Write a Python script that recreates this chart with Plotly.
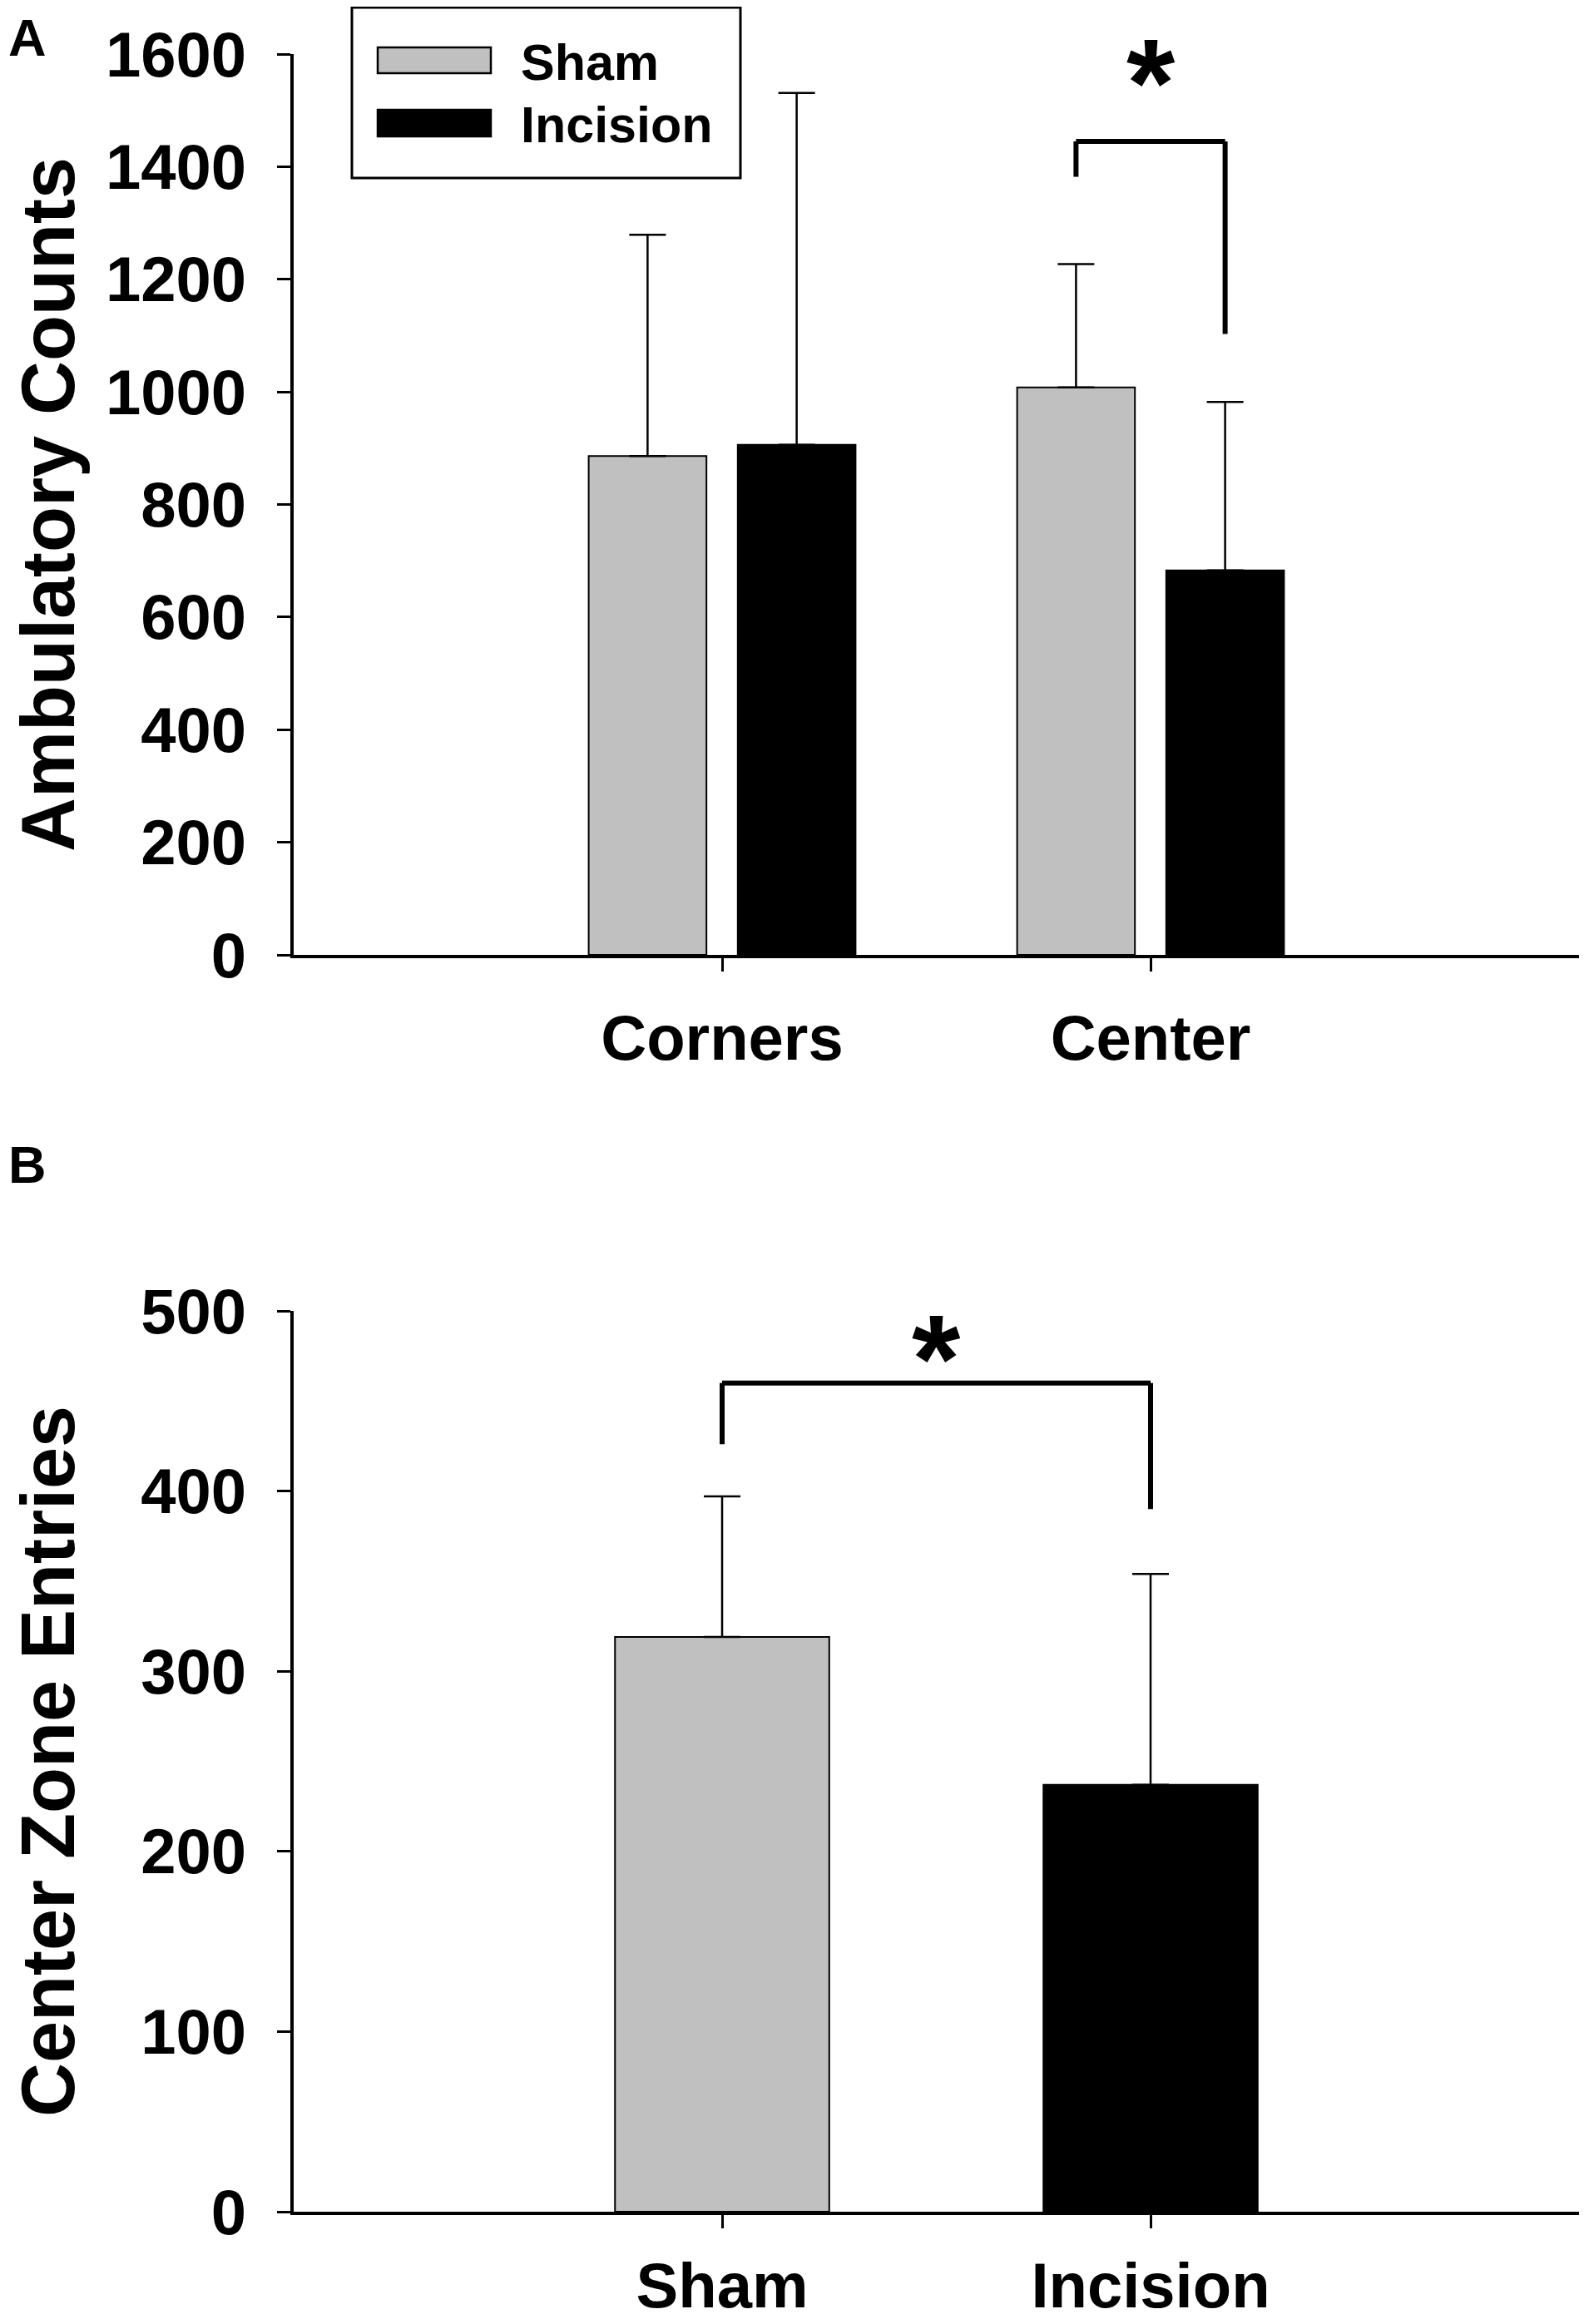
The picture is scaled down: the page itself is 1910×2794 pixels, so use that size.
import plotly.graph_objects as go

# ---------------- data ----------------
regions = ["Corners", "Center"]
sham_counts = [886, 1008]
sham_counts_err = [393, 219]
incision_counts = [906, 683]
incision_counts_err = [625, 299]

groups = ["Sham", "Incision"]
center_entries = [319, 237]
center_entries_err = [78, 117]

# significance brackets (y levels in data units)
bracketA = dict(top=1445, left_end=1382, right_end=1103, star=1571)
bracketB = dict(top=460, left_end=426, right_end=390, star=480)

A_ticks = list(range(0, 1601, 200))
B_ticks = list(range(0, 501, 100))

# ---------------- style ----------------
OX, OY = 8, 8              # page offset of the figure (body margin)
FW, FH = 1910 - OX, 2794 - OY
FONT = "Liberation Sans, Arial, sans-serif"
GRAY = "#c0c0c0"
BLACK = "#000000"
BARGAP = 0.304
GROUPGAP = 0.21


def px(x):
    return (x - OX) / FW


def py(y):
    return 1 - (y - OY) / FH


err_style = dict(type="data", symmetric=False, color=BLACK, thickness=2.5, width=22, visible=True)

fig = go.Figure()

fig.add_trace(go.Bar(
    x=regions, y=sham_counts, name="Sham",
    error_y=dict(array=sham_counts_err, arrayminus=[0] * len(regions), **err_style),
    marker=dict(color=GRAY, line=dict(color=BLACK, width=2)),
    xaxis="x", yaxis="y", showlegend=False,
))
fig.add_trace(go.Bar(
    x=regions, y=incision_counts, name="Incision",
    error_y=dict(array=incision_counts_err, arrayminus=[0] * len(regions), **err_style),
    marker=dict(color=BLACK, line=dict(color=BLACK, width=2)),
    xaxis="x", yaxis="y", showlegend=False,
))
fig.add_trace(go.Bar(
    x=groups, y=center_entries, width=0.5,
    error_y=dict(array=center_entries_err, arrayminus=[0] * len(groups), **err_style),
    marker=dict(color=[GRAY, BLACK], line=dict(color=BLACK, width=2)),
    xaxis="x2", yaxis="y2", showlegend=False,
))

tickfont = dict(family=FONT, size=76, color=BLACK, weight="bold")
titlefont = dict(family=FONT, size=90, color=BLACK, weight="bold")

xdom = [px(353), px(1898)]

common_x = dict(
    type="category", range=[-1, 2], showline=True, linewidth=4, linecolor=BLACK,
    ticks="outside", ticklen=16, tickwidth=2.5, tickcolor=BLACK,
    showgrid=False, zeroline=False, tickfont=tickfont,
    domain=xdom, automargin=False,
)
common_y = dict(
    showline=True, linewidth=3.5, linecolor=BLACK,
    ticks="outside", ticklen=16, tickwidth=2.5, tickcolor=BLACK,
    showgrid=False, zeroline=False, tickfont=tickfont, ticklabelstandoff=22,
    automargin=False,
)

fig.update_layout(
    width=FW, height=FH,
    margin=dict(l=0, r=0, t=0, b=0, pad=0),
    paper_bgcolor="white", plot_bgcolor="white",
    barmode="group", bargap=BARGAP, bargroupgap=GROUPGAP,
    showlegend=False,
    xaxis=dict(anchor="y", ticklabelstandoff=15, **common_x),
    yaxis=dict(anchor="x", domain=[py(1148), py(65)], range=[0, 1600],
               tickvals=A_ticks, ticktext=[str(v) for v in A_ticks],
               title=dict(text="Ambulatory Counts", font=titlefont, standoff=50),
               **common_y),
    xaxis2=dict(anchor="y2", ticklabelstandoff=4, **common_x),
    yaxis2=dict(anchor="x2", domain=[py(2659), py(1576)], range=[0, 500],
                tickvals=B_ticks, ticktext=[str(v) for v in B_ticks],
                title=dict(text="Center Zone Entries", font=titlefont, standoff=76),
                **common_y),
)

# ---------------- significance brackets ----------------
slot = (1 - BARGAP) / 2
offA = slot / 2
lw = 6
shapes = []


def bracket(xref, yref, xl, xr, b):
    return [
        dict(type="line", xref=xref, yref=yref, x0=xl, x1=xr, y0=b["top"], y1=b["top"],
             line=dict(color=BLACK, width=lw)),
        dict(type="line", xref=xref, yref=yref, x0=xl, x1=xl, y0=b["top"], y1=b["left_end"],
             line=dict(color=BLACK, width=lw)),
        dict(type="line", xref=xref, yref=yref, x0=xr, x1=xr, y0=b["top"], y1=b["right_end"],
             line=dict(color=BLACK, width=lw)),
    ]


ci = regions.index("Center")
shapes += bracket("x", "y", ci - offA, ci + offA, bracketA)
shapes += bracket("x2", "y2", 0, 1, bracketB)

# ---------------- legend (drawn box, wide swatches) ----------------
shapes.append(dict(type="rect", xref="paper", yref="paper",
                   x0=px(423), x1=px(890), y0=py(214), y1=py(9),
                   line=dict(color=BLACK, width=3), fillcolor="white", layer="above"))
shapes.append(dict(type="rect", xref="paper", yref="paper",
                   x0=px(454), x1=px(590), y0=py(88), y1=py(57),
                   line=dict(color=BLACK, width=2.5), fillcolor=GRAY, layer="above"))
shapes.append(dict(type="rect", xref="paper", yref="paper",
                   x0=px(454), x1=px(590), y0=py(164), y1=py(132),
                   line=dict(color=BLACK, width=2.5), fillcolor=BLACK, layer="above"))

annotations = []
legfont = dict(family=FONT, size=61, color=BLACK, weight="bold")
for name, ymid in zip(["Sham", "Incision"], [75, 150]):
    annotations.append(dict(text=name, xref="paper", yref="paper", x=px(624), y=py(ymid),
                            xanchor="left", yanchor="middle", showarrow=False, font=legfont))

starfont = dict(family=FONT, size=150, color=BLACK, weight="bold")
annotations.append(dict(text="*", xref="x", yref="y", x=ci, y=bracketA["star"],
                        xanchor="center", yanchor="middle", yshift=-15, showarrow=False, font=starfont))
annotations.append(dict(text="*", xref="x2", yref="y2", x=0.5, y=bracketB["star"],
                        xanchor="center", yanchor="middle", yshift=-15, showarrow=False, font=starfont))

panelfont = dict(family=FONT, size=63, color=BLACK, weight="bold")
annotations.append(dict(text="A", xref="paper", yref="paper", x=px(8), y=py(8),
                        xanchor="left", yanchor="top", showarrow=False, font=panelfont))
annotations.append(dict(text="B", xref="paper", yref="paper", x=px(8), y=py(1400),
                        xanchor="left", yanchor="middle", showarrow=False, font=panelfont))

fig.update_layout(shapes=shapes, annotations=annotations)

fig.write_html("out.html")
